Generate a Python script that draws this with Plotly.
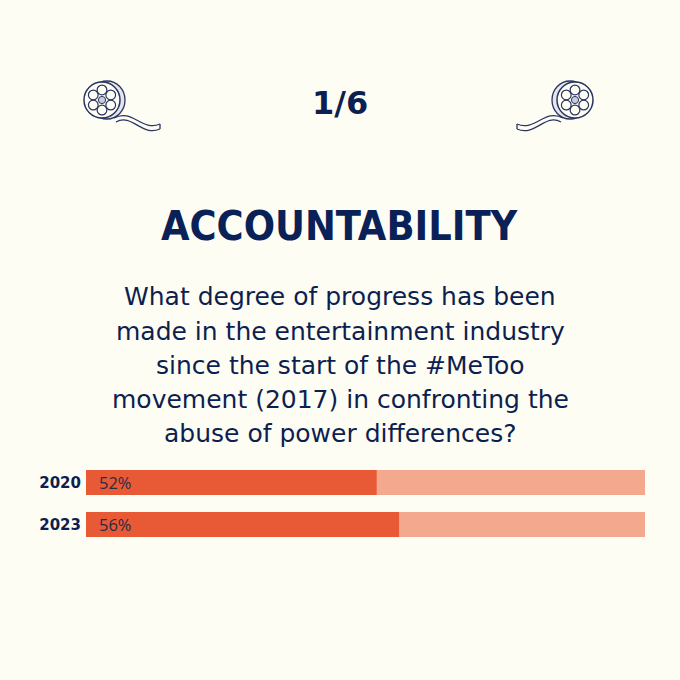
import math
import plotly.graph_objects as go

# ---- data ----
years = ["2020", "2023"]
values = [52, 56]
full_scale = [100, 100]
page_label = "1/6"
title_text = "ACCOUNTABILITY"
question_lines = [
    "What degree of progress has been",
    "made in the entertainment industry",
    "since the start of the #MeToo",
    "movement (2017) in confronting the",
    "abuse of power differences?",
]

W = H = 680
BG = "#FEFDF4"
NAVY = "#0D1F50"
DARK = "#E85A36"
LIGHT = "#F4A98F"
cat_order = years[::-1]  # bottom to top


def px(x):
    return x / W


def py(y):
    return 1 - y / H


fig = go.Figure()
fig.add_trace(go.Bar(y=years, x=full_scale, orientation="h", marker=dict(color=LIGHT, line_width=0),
                     width=0.6, hoverinfo="skip", showlegend=False))
fig.add_trace(go.Bar(y=years, x=values, orientation="h", marker=dict(color=DARK, line_width=0),
                     width=0.6, showlegend=False))

annotations = []
for yr, v in zip(years, values):
    annotations.append(dict(x=0, y=cat_order.index(yr), xref="x", yref="y", text=f"{v}%", showarrow=False,
                            xanchor="left", xshift=11, yanchor="middle",
                            font=dict(family="Open Sans", size=16.5, color="#2B2B45")))

annotations.append(dict(x=0.5, y=py(103), xref="paper", yref="paper", text=page_label, showarrow=False,
                        font=dict(family="DejaVu Sans", size=32, color=NAVY, weight="bold"), yanchor="middle"))
annotations.append(dict(x=0.5, y=py(226), xref="paper", yref="paper", text=title_text, showarrow=False,
                        font=dict(family="DejaVu Sans Condensed, DejaVu Sans", size=41, color="#0A2158",
                                  weight="bold"),
                        yanchor="middle"))
line_y = [296, 331, 365, 399, 433]
for t, yy in zip(question_lines, line_y):
    annotations.append(dict(x=0.5, y=py(yy), xref="paper", yref="paper", text=t, showarrow=False,
                            font=dict(family="DejaVu Sans", size=25, color=NAVY), yanchor="middle"))

# ---- decorative film reels ----
shapes = []


def reel(cx, cy, r, d):
    s = []
    lc = "#2A3560"
    off = 5 * d
    s.append(dict(type="circle", xref="paper", yref="paper", x0=px(cx - r + off), x1=px(cx + r + off),
                  y0=py(cy + r + 1), y1=py(cy - r - 1), line=dict(color=lc, width=1.3), fillcolor="#E4E6EE",
                  layer="above"))
    s.append(dict(type="circle", xref="paper", yref="paper", x0=px(cx - r), x1=px(cx + r),
                  y0=py(cy + r), y1=py(cy - r), line=dict(color=lc, width=1.5), fillcolor=BG, layer="above"))
    for k in range(6):
        a = math.pi / 2 + k * math.pi / 3
        hx = cx + 0.56 * r * math.cos(a)
        hy = cy + 0.56 * r * math.sin(a)
        hr = 0.27 * r
        s.append(dict(type="circle", xref="paper", yref="paper", x0=px(hx - hr), x1=px(hx + hr),
                      y0=py(hy + hr), y1=py(hy - hr), line=dict(color=lc, width=1.2), layer="above"))
    cr = 0.2 * r
    s.append(dict(type="circle", xref="paper", yref="paper", x0=px(cx - cr), x1=px(cx + cr),
                  y0=py(cy + cr), y1=py(cy - cr), line=dict(color=lc, width=1), fillcolor="#C9CEDD", layer="above"))
    # film strip tail
    pts1 = [(cx + d * 12, cy + r), (cx + d * 30, cy + r - 10), (cx + d * 40, cy + r + 14), (cx + d * 58, cy + r + 6)]
    pts2 = [(cx + d * 14, cy + r + 4), (cx + d * 30, cy + r - 5), (cx + d * 40, cy + r + 19), (cx + d * 58, cy + r + 11)]
    for pts in (pts1, pts2):
        p = "M {} {} C {} {}, {} {}, {} {}".format(px(pts[0][0]), py(pts[0][1]), px(pts[1][0]), py(pts[1][1]),
                                                  px(pts[2][0]), py(pts[2][1]), px(pts[3][0]), py(pts[3][1]))
        s.append(dict(type="path", xref="paper", yref="paper", path=p, line=dict(color=lc, width=1.3), layer="above"))
    end = pts1[3]
    end2 = pts2[3]
    s.append(dict(type="line", xref="paper", yref="paper", x0=px(end[0]), y0=py(end[1]), x1=px(end2[0]),
                  y1=py(end2[1]), line=dict(color=lc, width=1.3), layer="above"))
    return s


shapes += reel(102, 100, 18, 1)
shapes += reel(575, 100, 18, -1)

fig.update_layout(
    width=W, height=H,
    margin=dict(l=0, r=0, t=0, b=0),
    paper_bgcolor=BG, plot_bgcolor=BG,
    barmode="overlay",
    xaxis=dict(domain=[px(86), px(645)], range=[0, 100], visible=False, fixedrange=True),
    yaxis=dict(type="category", domain=[py(545.5), py(461.5)], categoryorder="array", categoryarray=cat_order,
               range=[-0.5, 1.5], autorange=False, showgrid=False, zeroline=False, showline=False, ticks="",
               tickfont=dict(family="DejaVu Sans", size=15, color=NAVY, weight="bold"), ticklabelstandoff=4),
    annotations=annotations,
    shapes=shapes,
    showlegend=False,
)

fig.write_html("out.html", config={"displayModeBar": False},
               post_script="document.body.style.margin='0px';")
